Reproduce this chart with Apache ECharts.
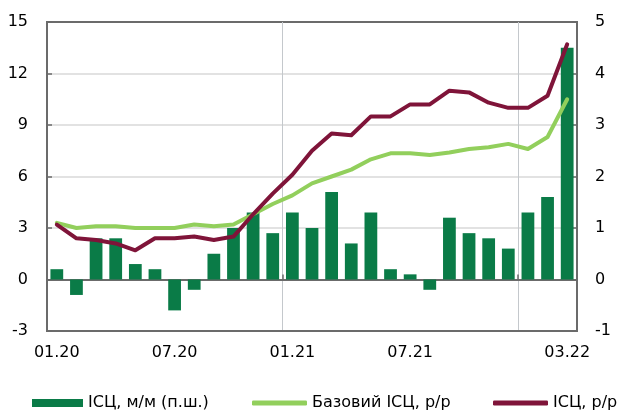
<!DOCTYPE html>
<html>
<head>
<meta charset="utf-8">
<script src="https://cdn.jsdelivr.net/npm/echarts@6/dist/echarts.min.js"></script>
<style>html,body{margin:0;padding:0;background:#fff}#c{width:628px;height:414px}</style>
</head>
<body>
<div id="c"></div>
<script>
const months = ['01.20','02.20','03.20','04.20','05.20','06.20','07.20','08.20','09.20','10.20','11.20','12.20',
  '01.21','02.21','03.21','04.21','05.21','06.21','07.21','08.21','09.21','10.21','11.21','12.21',
  '01.22','02.22','03.22'];
const shownLabels = [0, 6, 12, 18, 26];
const yearBoundaries = [12, 24];
// ІСЦ, м/м (права шкала)
const cpiMoM = [0.2,-0.3,0.8,0.8,0.3,0.2,-0.6,-0.2,0.5,1.0,1.3,0.9,1.3,1.0,1.7,0.7,1.3,0.2,0.1,-0.2,1.2,0.9,0.8,0.6,1.3,1.6,4.5];
// Базовий ІСЦ, р/р
const coreYoY = [3.3,3.0,3.1,3.1,3.0,3.0,3.0,3.2,3.1,3.2,3.8,4.4,4.9,5.6,6.0,6.4,7.0,7.35,7.35,7.25,7.4,7.6,7.7,7.9,7.6,8.3,10.5];
// ІСЦ, р/р
const cpiYoY = [3.2,2.4,2.3,2.1,1.7,2.4,2.4,2.5,2.3,2.5,3.8,5.0,6.1,7.5,8.5,8.4,9.5,9.5,10.2,10.2,11.0,10.9,10.3,10.0,10.0,10.7,13.7];

const names = ['ІСЦ, м/м (п.ш.)', 'Базовий ІСЦ, р/р', 'ІСЦ, р/р'];
const colors = ['#0a7b47', '#92cf5c', '#7f1439'];
const axisColor = '#6b6b6b';
const gridColor = '#d9d9d9';
const vGridColor = '#c4c8cc';
const font = 'DejaVu Sans';

const chart = echarts.init(document.getElementById('c'), null, {renderer: 'canvas'});
const legendBase = {
  orient: 'horizontal', top: 395, padding: 0,
  textStyle: {fontFamily: font, fontSize: 16, color: '#000'},
  selectedMode: false
};
chart.setOption({
  animation: false,
  grid: {left: 47, right: 51, top: 22, bottom: 83, show: true, borderColor: axisColor, borderWidth: 2, backgroundColor: 'transparent'},
  legend: [
    Object.assign({}, legendBase, {left: 32, itemWidth: 51, itemHeight: 8, data: [{name: names[0], icon: 'rect'}]}),
    Object.assign({}, legendBase, {left: 252, itemWidth: 55, itemHeight: 5, data: [{name: names[1], icon: 'roundRect'}]}),
    Object.assign({}, legendBase, {left: 493, itemWidth: 55, itemHeight: 5, data: [{name: names[2], icon: 'roundRect'}]})
  ],
  xAxis: [
    {
      type: 'category', data: months, position: 'bottom', boundaryGap: true,
      axisLine: {show: true, onZero: false, lineStyle: {color: axisColor, width: 2}},
      axisTick: {show: false},
      axisLabel: {
        interval: (i) => shownLabels.includes(i),
        fontFamily: font, fontSize: 16, color: '#000', margin: 14
      },
      splitLine: {show: false}
    },
    {
      type: 'category', data: months, position: 'bottom', boundaryGap: true,
      axisLine: {show: true, onZero: true, onZeroAxisIndex: 0, lineStyle: {color: axisColor, width: 2}},
      axisTick: {show: true, inside: true, length: 5, interval: (i) => yearBoundaries.includes(i), lineStyle: {color: axisColor, width: 1.5}},
      axisLabel: {show: false},
      splitLine: {show: true, interval: (i) => yearBoundaries.includes(i), lineStyle: {color: vGridColor, width: 1}}
    }
  ],
  yAxis: [
    {
      type: 'value', min: -3, max: 15, interval: 3, position: 'left',
      axisLine: {show: true, lineStyle: {color: axisColor, width: 2}},
      axisTick: {show: true, inside: true, length: 5, lineStyle: {color: axisColor, width: 1.5}},
      axisLabel: {fontFamily: font, fontSize: 16, color: '#000', margin: 19},
      splitLine: {show: true, showMinLine: false, showMaxLine: false, lineStyle: {color: gridColor, width: 1.5}}
    },
    {
      type: 'value', min: -1, max: 5, interval: 1, position: 'right',
      axisLine: {show: true, lineStyle: {color: axisColor, width: 2}},
      axisTick: {show: true, inside: true, length: 5, lineStyle: {color: axisColor, width: 1.5}},
      axisLabel: {fontFamily: font, fontSize: 16, color: '#000', margin: 18},
      splitLine: {show: false}
    }
  ],
  series: [
    {
      name: names[0], type: 'bar', xAxisIndex: 0, yAxisIndex: 1, data: cpiMoM,
      barWidth: '65%', itemStyle: {color: colors[0]}, z: 2
    },
    {
      name: names[1], type: 'line', xAxisIndex: 0, yAxisIndex: 0, data: coreYoY,
      symbol: 'none', lineStyle: {color: colors[1], width: 4, cap: 'round', join: 'round'}, itemStyle: {color: colors[1]}, z: 3
    },
    {
      name: names[2], type: 'line', xAxisIndex: 0, yAxisIndex: 0, data: cpiYoY,
      symbol: 'none', lineStyle: {color: colors[2], width: 4, cap: 'round', join: 'round'}, itemStyle: {color: colors[2]}, z: 4
    }
  ]
});
</script>
</body>
</html>
